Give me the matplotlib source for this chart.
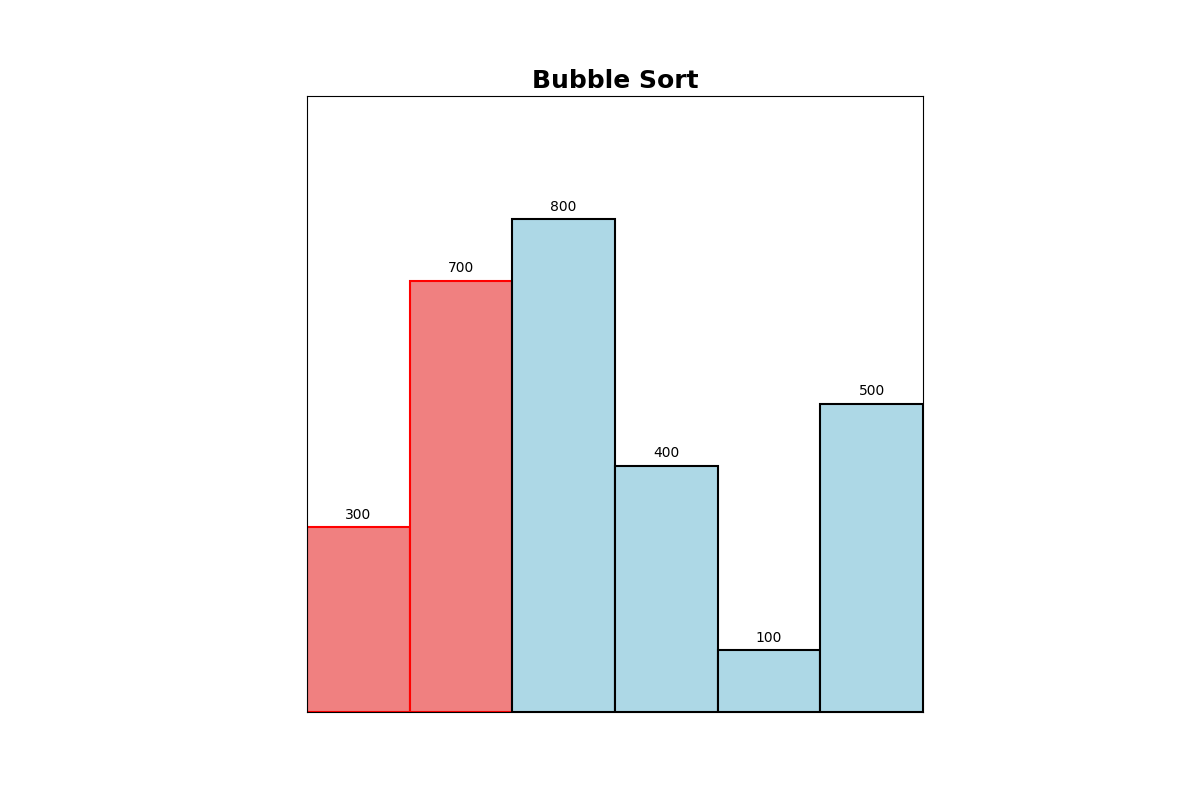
import matplotlib
matplotlib.use("Agg")
import matplotlib.pyplot as plt

values = [300, 700, 800, 400, 100, 500]
labels = [str(v) for v in values]
highlight = [True, True, False, False, False, False]

fig = plt.figure(figsize=(12, 8), dpi=100)
ax = fig.add_subplot(111)
for i, (v, h) in enumerate(zip(values, highlight)):
    ax.bar(i, v, width=1.0,
           color="lightcoral" if h else "lightblue",
           edgecolor="red" if h else "black", linewidth=1.5)
    ax.annotate(labels[i], (i, v), xytext=(0, 4), textcoords="offset points",
                ha="center", va="bottom", fontsize=10)
ax.set_xlim(-0.5, len(values) - 0.5)
ax.set_ylim(0, 1000)
ax.set_box_aspect(1)
ax.set_xticks([])
ax.set_yticks([])
ax.set_title("Bubble Sort", fontsize=18, fontweight="bold")
fig.savefig("out.png", dpi=100)
